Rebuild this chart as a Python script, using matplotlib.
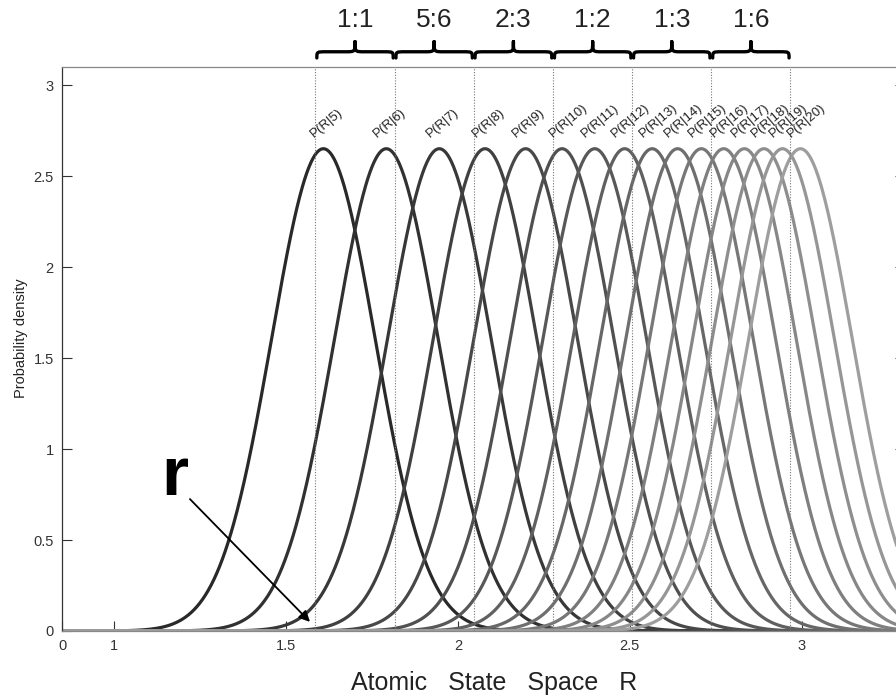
import matplotlib
matplotlib.use("Agg")
import matplotlib.pyplot as plt
import matplotlib.transforms as mtransforms
from matplotlib.path import Path
from matplotlib.patches import PathPatch
import numpy as np

plt.rcParams["font.family"] = ["Liberation Sans", "DejaVu Sans"]

# state index n and the centre of P(R|n) on the R axis
states = [5, 6, 7, 8, 9, 10, 11, 12, 13, 14, 15, 16, 17, 18, 19, 20]
centres = [1.609, 1.792, 1.946, 2.079, 2.197, 2.303, 2.398, 2.485,
           2.565, 2.639, 2.708, 2.773, 2.833, 2.890, 2.944, 2.996]
sigma = 0.1505

# dotted boundaries and the ratio that labels each interval
bounds = [1.586, 1.816, 2.046, 2.277, 2.507, 2.737, 2.967]
ratios = ["1:1", "5:6", "2:3", "1:2", "1:3", "1:6"]

xticks = [0.849, 1.0, 1.5, 2.0, 2.5, 3.0]
xtick_labels = ["0", "1", "1.5", "2", "2.5", "3"]
yticks = [0, 0.5, 1, 1.5, 2, 2.5, 3]
ytick_labels = ["0", "0.5", "1", "1.5", "2", "2.5", "3"]


def brace(ax, x0, x1, y_end, y_arm, y_tip, lw=2.4):
    trans = mtransforms.blended_transform_factory(ax.transData, ax.transAxes)
    xm = (x0 + x1) / 2
    r = (x1 - x0) * 0.12
    verts = [
        (x0, y_end),
        (x0, y_arm), (x0, y_arm), (x0 + r, y_arm),
        (xm - r, y_arm),
        (xm, y_arm), (xm, y_arm), (xm, y_tip),
        (xm, y_arm), (xm, y_arm), (xm + r, y_arm),
        (x1 - r, y_arm),
        (x1, y_arm), (x1, y_arm), (x1, y_end),
    ]
    codes = [Path.MOVETO,
             Path.CURVE4, Path.CURVE4, Path.CURVE4,
             Path.LINETO,
             Path.CURVE4, Path.CURVE4, Path.CURVE4,
             Path.CURVE4, Path.CURVE4, Path.CURVE4,
             Path.LINETO,
             Path.CURVE4, Path.CURVE4, Path.CURVE4]
    ax.add_patch(PathPatch(Path(verts, codes), transform=trans, fill=False,
                           edgecolor="black", lw=lw, clip_on=False,
                           capstyle="round", joinstyle="round"))


fig = plt.figure(figsize=(8.96, 7), dpi=100)
ax = fig.add_axes([0.0692, 0.0986, 0.9408, 0.8057])

x = np.linspace(0.849, 3.30, 1200)
greys = np.linspace(0.16, 0.62, len(states))
for n, mu, g in zip(states, centres, greys):
    dens = np.exp(-(x - mu) ** 2 / (2 * sigma ** 2)) / (sigma * np.sqrt(2 * np.pi))
    ax.plot(x, dens, color=(g, g, g), lw=2.3, solid_capstyle="butt")
    peak = 1 / (sigma * np.sqrt(2 * np.pi))
    ax.text(mu - 0.022, peak + 0.05, f"P(R|{n})", rotation=40,
            rotation_mode="anchor", ha="left", va="bottom", fontsize=9.5,
            color="#222222")

for b in bounds:
    ax.axvline(b, color="#777777", lw=0.8, ls=(0, (1, 1.5)))

for (a, b), lab in zip(zip(bounds[:-1], bounds[1:]), ratios):
    brace(ax, a + 0.004, b - 0.004, 1.016, 1.027, 1.045)
    ax.text((a + b) / 2, 1.083, lab, transform=ax.get_xaxis_transform(),
            ha="center", va="center", fontsize=19, color="#222222")

ax.annotate("", xy=(1.570, 0.05), xytext=(1.221, 0.725),
            arrowprops=dict(arrowstyle="-|>", color="black", lw=1.3,
                            mutation_scale=16, shrinkA=0, shrinkB=0))
ax.text(1.177, 0.75, "r", fontsize=50, fontweight="bold", ha="center",
        va="baseline", color="black")

ax.set_xlim(0.849, 3.30)
ax.set_ylim(0, 3.1)
ax.set_xticks(xticks)
ax.set_xticklabels(xtick_labels)
ax.set_yticks(yticks)
ax.set_yticklabels(ytick_labels)
ax.tick_params(direction="in", length=7.5, width=0.8, labelsize=10.5,
               colors="#333333", pad=6, right=True)
for side in ["left", "right"]:
    ax.spines[side].set_color("#333333")
for side in ["top", "bottom"]:
    ax.spines[side].set_color("#888888")
for sp in ax.spines.values():
    sp.set_linewidth(0.9)

ax.set_ylabel("Probability density", fontsize=10.5, color="#222222")
ax.yaxis.set_label_coords(-0.040, 0.52)
fig.text(494 / 896, 1 - 683 / 700, "Atomic   State   Space   R",
         ha="center", va="center", fontsize=18, color="#222222")

fig.savefig("out.png", dpi=100)
